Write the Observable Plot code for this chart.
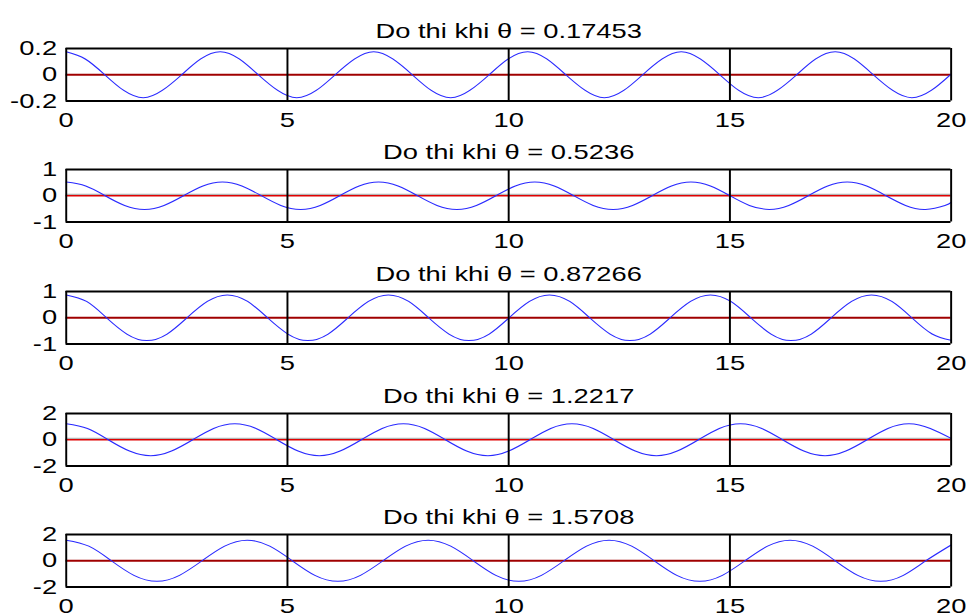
<!DOCTYPE html>
<html>
<head>
<meta charset="utf-8">
<script src="https://cdn.jsdelivr.net/npm/d3@7"></script>
<script src="https://cdn.jsdelivr.net/npm/@observablehq/plot@0.6"></script>
<style>
html, body { margin: 0; padding: 0; background: #ffffff; overflow: hidden; width: 969px; height: 616px; }
#wrap { position: relative; width: 745px; height: 616px; transform: scaleX(1.3007); transform-origin: 0 0; }
#wrap svg { position: absolute; left: 0; }
</style>
</head>
<body>
<div id="wrap"></div>
<script>
// Panel titles (theta values) and y-axis limits
const thetaLabels = ["0.17453", "0.5236", "0.87266", "1.2217", "1.5708"];
const yLimits = [0.2, 1, 1, 2, 2];
const xTicks = [0, 5, 10, 15, 20];

// Panel 1 (theta = 0.17453)
const t1 = [0,0.43,0.87,1.30,1.74,2.17,2.61,3.04,3.48,3.91,4.34,4.78,5.21,5.65,6.08,6.52,6.95,7.38,7.82,8.25,8.69,9.12,9.56,9.99,10.43,10.86,11.29,11.73,12.16,12.60,13.03,13.47,13.90,14.33,14.77,15.20,15.64,16.07,16.51,16.94,17.38,17.81,18.24,18.68,19.11,19.55,20];
const y1 = [0.175,0.12,0,-0.12,-0.175,-0.12,0,0.12,
            0.175,0.12,0,-0.12,-0.175,-0.12,0,0.12,
            0.175,0.12,0,-0.12,-0.175,-0.12,0,0.12,
            0.175,0.12,0,-0.12,-0.175,-0.12,0,0.12,
            0.175,0.12,0,-0.12,-0.175,-0.12,0,0.12,
            0.175,0.12,0,-0.12,-0.175,-0.12,0.005];

// Panel 2 (theta = 0.5236)
const t2 = [0,0.44,0.88,1.32,1.77,2.21,2.65,3.09,3.53,3.97,4.41,4.85,5.30,5.74,6.18,6.62,7.06,7.50,7.94,8.38,8.83,9.27,9.71,10.15,10.59,11.03,11.47,11.91,12.36,12.80,13.24,13.68,14.12,14.56,15.00,15.44,15.89,16.33,16.77,17.21,17.65,18.09,18.53,18.97,19.42,19.86,20];
const y2 = [0.52,0.37,0,-0.37,-0.52,-0.37,0,0.37,
            0.52,0.37,0,-0.37,-0.52,-0.37,0,0.37,
            0.52,0.37,0,-0.37,-0.52,-0.37,0,0.37,
            0.52,0.37,0,-0.37,-0.52,-0.37,0,0.37,
            0.52,0.37,0,-0.37,-0.52,-0.37,0,0.37,
            0.52,0.37,0,-0.37,-0.52,-0.37,-0.25];

// Panel 3 (theta = 0.87266)
const t3 = [0,0.46,0.91,1.37,1.82,2.28,2.73,3.19,3.64,4.10,4.55,5.01,5.46,5.92,6.37,6.83,7.28,7.74,8.19,8.65,9.10,9.56,10.01,10.47,10.92,11.38,11.83,12.29,12.74,13.20,13.65,14.11,14.56,15.02,15.47,15.93,16.38,16.84,17.29,17.75,18.20,18.66,19.11,19.57,20];
const y3 = [0.87,0.62,0,-0.62,-0.87,-0.62,0,0.62,
            0.87,0.62,0,-0.62,-0.87,-0.62,0,0.62,
            0.87,0.62,0,-0.62,-0.87,-0.62,0,0.62,
            0.87,0.62,0,-0.62,-0.87,-0.62,0,0.62,
            0.87,0.62,0,-0.62,-0.87,-0.62,0,0.62,
            0.87,0.62,0,-0.62,-0.86];

// Panel 4 (theta = 1.2217)
const t4 = [0,0.48,0.95,1.43,1.91,2.38,2.86,3.33,3.81,4.29,4.76,5.24,5.72,6.19,6.67,7.14,7.62,8.10,8.57,9.05,9.53,10.00,10.48,10.95,11.43,11.91,12.38,12.86,13.34,13.81,14.29,14.76,15.24,15.72,16.19,16.67,17.15,17.62,18.10,18.57,19.05,19.53,20];
const y4 = [1.22,0.86,0,-0.86,-1.22,-0.86,0,0.86,
            1.22,0.86,0,-0.86,-1.22,-0.86,0,0.86,
            1.22,0.86,0,-0.86,-1.22,-0.86,0,0.86,
            1.22,0.86,0,-0.86,-1.22,-0.86,0,0.86,
            1.22,0.86,0,-0.86,-1.22,-0.86,0,0.86,
            1.22,0.86,0.1];

// Panel 5 (theta = 1.5708)
const t5 = [0,0.51,1.02,1.53,2.05,2.56,3.07,3.58,4.09,4.60,5.11,5.62,6.14,6.65,7.16,7.67,8.18,8.69,9.20,9.71,10.23,10.74,11.25,11.76,12.27,12.78,13.29,13.80,14.32,14.83,15.34,15.85,16.36,16.87,17.38,17.89,18.41,18.92,19.43,20];
const y5 = [1.57,1.11,0,-1.11,-1.57,-1.11,0,1.11,
            1.57,1.11,0,-1.11,-1.57,-1.11,0,1.11,
            1.57,1.11,0,-1.11,-1.57,-1.11,0,1.11,
            1.57,1.11,0,-1.11,-1.57,-1.11,0,1.11,
            1.57,1.11,0,-1.11,-1.57,-1.11,0,1.2];

const tSeries = [t1, t2, t3, t4, t5];
const ySeries = [y1, y2, y3, y4, y5];

const wrap = document.getElementById("wrap");
const FONT = "'Liberation Sans', Arial, Helvetica, sans-serif";

for (let i = 0; i < 5; i++) {
  const data = tSeries[i].map((t, j) => ({t, y: ySeries[i][j]}));
  const L = yLimits[i];
  const title = "Do thi khi θ = " + thetaLabels[i];
  const shaded = (i === 1 || i === 3);
  const zeroMarks = shaded
    ? [Plot.ruleY([0], {stroke: "#b4b4b4", strokeWidth: 2, dy: -1}),
       Plot.ruleY([0], {stroke: "#e00000", strokeWidth: 1.5})]
    : [Plot.ruleY([0], {stroke: "#a00000", strokeWidth: 2.2})];
  const svg = Plot.plot({
    width: 745,
    height: 121.6,
    marginLeft: 50.4,
    marginRight: 14.23,
    marginTop: 36,
    marginBottom: 33.1,
    style: {fontFamily: FONT, fontSize: "21px", color: "black", background: "transparent", overflow: "visible"},
    x: {domain: [0, 20], ticks: xTicks, tickSize: 0, tickPadding: 11, tickFormat: d => String(d), label: null},
    y: {domain: [-L, L], ticks: [-L, 0, L], tickSize: 0, tickPadding: 7, tickFormat: d => String(d), label: null},
    marks: [
      ...zeroMarks,
      Plot.line(data, {x: "t", y: "y", stroke: "#2a2aff", strokeWidth: 1, curve: "natural"}),
      Plot.ruleX(xTicks, {stroke: "black", strokeWidth: 1.5}),
      Plot.ruleY([-L, L], {stroke: "black", strokeWidth: 2}),
      Plot.text([title], {frameAnchor: "top", dy: -25, text: d => d, fontSize: 21, fill: "black"})
    ]
  });
  svg.style.top = (47.7 + 121.6 * i - 36) + "px";
  wrap.appendChild(svg);
}
</script>
</body>
</html>
